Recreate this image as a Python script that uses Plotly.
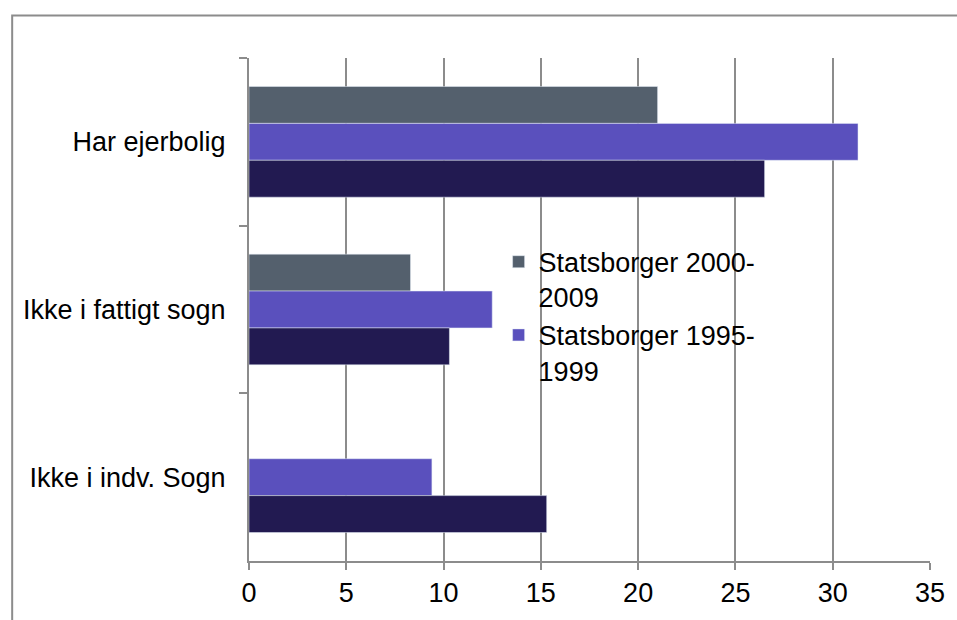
import plotly.graph_objects as go

categories = ["Har ejerbolig", "Ikke i fattigt sogn", "Ikke i indv. Sogn"]
series_names = ["Statsborger 2000-<br>2009", "Statsborger 1995-<br>1999", "Øvrige"]
vals_2000_2009 = [21.0, 8.3, None]
vals_1995_1999 = [31.3, 12.5, 9.4]
vals_other = [26.5, 10.3, 15.3]
x_ticks = [0, 5, 10, 15, 20, 25, 30, 35]

colors = {"gray": "#54606D", "purple": "#5A50BD", "navy": "#221A51"}
FONT = "Liberation Sans, Arial, sans-serif"

fig = go.Figure()
fig.add_trace(go.Bar(y=categories, x=vals_2000_2009, orientation="h", name=series_names[0],
                     marker=dict(color=colors["gray"])))
fig.add_trace(go.Bar(y=categories, x=vals_1995_1999, orientation="h", name=series_names[1],
                     marker=dict(color=colors["purple"])))
fig.add_trace(go.Bar(y=categories, x=vals_other, orientation="h", name=series_names[2],
                     marker=dict(color=colors["navy"]), showlegend=False))

W, H = 957, 620
L, R, T, B = 249, 15, 58, 30
pw, ph = W - L - R, H - T - B

def px_x(p):
    return (p - L) / pw

def px_y(p):
    return (H - B - p) / ph

fig.update_layout(
    width=W, height=H,
    margin=dict(l=L, r=R, t=T, b=B),
    paper_bgcolor="white", plot_bgcolor="white",
    font=dict(family=FONT, size=27, color="black"),
    barmode="group", bargap=0.34, bargroupgap=0,
    legend=dict(
        x=px_x(503), y=px_y(248), xanchor="left", yanchor="top",
        bgcolor="rgba(0,0,0,0)", traceorder="normal", valign="top",
        font=dict(family=FONT, size=27, color="black"),
        itemwidth=30, tracegroupgap=0,
    ),
    xaxis=dict(
        range=[0, 35], tickvals=x_ticks, ticktext=[str(t) for t in x_ticks],
        showgrid=True, gridcolor="#8C8C8C", gridwidth=2,
        showline=True, linecolor="#8C8C8C", linewidth=2,
        ticks="outside", ticklen=7, tickcolor="#8C8C8C", tickwidth=2,
        zeroline=False, fixedrange=True, ticklabeloverflow="allow",
    ),
    yaxis=dict(
        categoryorder="array", categoryarray=categories, autorange="reversed",
        showline=True, linecolor="#8C8C8C", linewidth=2,
        ticks="outside", ticklen=8, tickcolor="#8C8C8C", tickwidth=2,
        tickson="boundaries", showgrid=False, ticklabelstandoff=16,
        fixedrange=True,
    ),
    shapes=[dict(type="rect", xref="paper", yref="paper",
                 x0=px_x(8), x1=px_x(990), y0=px_y(13), y1=px_y(660),
                 line=dict(color="#8C8C8C", width=2), fillcolor="rgba(0,0,0,0)",
                 layer="below")],
)

fig.write_html("out.html", config={"displayModeBar": False},
               post_script="document.body.style.margin='0';document.documentElement.style.overflow='hidden';document.body.style.overflow='hidden';")
